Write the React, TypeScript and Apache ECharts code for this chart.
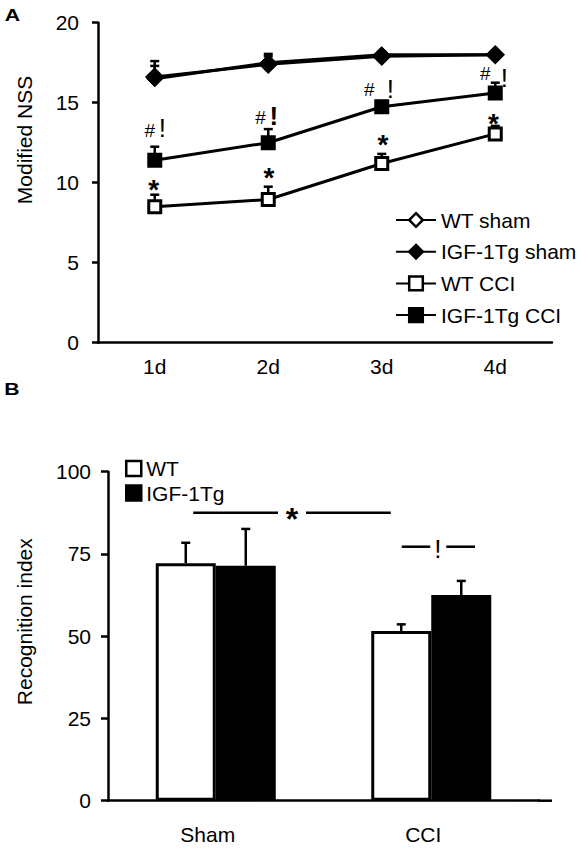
import React, { useEffect, useRef } from 'react';
import * as echarts from 'echarts';

// ---------- Panel A data: Modified NSS ----------
const days = ['1d', '2d', '3d', '4d'];
const wtSham = [16.6, 17.4, 17.9, 18.0];
const wtShamErr = [0.7, 0.5, 0.2, 0.1];
const igfSham = [16.5, 17.5, 18.0, 18.0];
const igfShamErr = [1.1, 0.55, 0.2, 0.1];
const wtCci = [8.5, 8.95, 11.2, 13.05];
const wtCciErr = [0.75, 0.8, 0.6, 0.5];
const igfCci = [11.4, 12.5, 14.75, 15.6];
const igfCciErr = [0.85, 0.85, 0.35, 0.65];

// significance marks (value positions, in NSS units)
const starValuesA = [9.6, 10.33, 12.41, 13.73];
const hashValuesA = [13.25, 14.09, 15.84, 16.84];
const bangValuesA = [13.4, 14.17, 15.84, 16.53];

// ---------- Panel B data: Recognition index ----------
const groups = ['Sham', 'CCI'];
const wtRI = [72.2, 51.6];
const wtRIErr = [6.2, 2.0];
const igfRI = [71.4, 62.5];
const igfRIErr = [11.2, 4.3];
const starLineB = 87.5;
const bangLineB = 77.2;

// ---------- layout / style ----------
const FONT = 'Arial, "Liberation Sans", Helvetica, sans-serif';
const starDxA = [-1, 0.6, 1.2, -1.8];
const hashDxA = [-5, -7.7, -12.4, -10];
const bangDxA = [7.6, 5.6, 8.6, 9];
const bangBoldA = [false, true, false, false];
const BAR_W = 60;

function errorBars(xi: number, yi: number, vals: number[], errs: number[], dx: number, z: number) {
  return {
    type: 'custom',
    xAxisIndex: xi,
    yAxisIndex: yi,
    silent: true,
    z,
    encode: { x: 0, y: 1 },
    data: vals.map((v, i) => [i, v, errs[i]]),
    renderItem: (params: any, api: any) => {
      const i = api.value(0);
      const v = api.value(1);
      const e = api.value(2);
      const p0 = api.coord([i, v]);
      const p1 = api.coord([i, v + e]);
      const x = p0[0] + dx;
      return {
        type: 'group',
        children: [
          { type: 'line', shape: { x1: x, y1: p0[1], x2: x, y2: p1[1] }, style: { stroke: '#000', lineWidth: 2.5 } },
          { type: 'line', shape: { x1: x - 4.5, y1: p1[1], x2: x + 4.5, y2: p1[1] }, style: { stroke: '#000', lineWidth: 2.5 } },
        ],
      };
    },
  };
}

function marks(vals: number[], text: string, dxs: number[], size: number, bold?: boolean[] | boolean) {
  return {
    type: 'custom',
    xAxisIndex: 0,
    yAxisIndex: 0,
    silent: true,
    z: 5,
    encode: { x: 0, y: 1 },
    data: vals.map((v, i) => [i, v]),
    renderItem: (params: any, api: any) => {
      const i = api.value(0);
      const p = api.coord([i, api.value(1)]);
      const isBold = Array.isArray(bold) ? bold[i] : !!bold;
      return {
        type: 'text',
        x: p[0] + dxs[i],
        y: p[1],
        style: {
          text,
          fill: '#000',
          fontSize: size,
          fontFamily: FONT,
          fontWeight: isBold ? 'bold' : 'normal',
          align: 'center',
          verticalAlign: 'middle',
        },
      };
    },
  };
}

export default function App() {
  const ref = useRef<HTMLDivElement>(null);
  useEffect(() => {
    document.body.style.margin = '0';
    if (!ref.current) return;
    const chart = echarts.init(ref.current, null, { renderer: 'svg' });

    const axisLine = { show: true, lineStyle: { color: '#000', width: 2.5 } };
    const labelStyle = { color: '#000', fontSize: 21, fontFamily: FONT };

    const option: any = {
      animation: false,
      backgroundColor: '#fff',
      textStyle: { fontFamily: FONT },
      grid: [
        { left: 98, top: 22.7, width: 454, height: 320 },
        { left: 108, top: 471.7, width: 431, height: 329 },
      ],
      xAxis: [
        {
          type: 'category', gridIndex: 0, data: days,
          axisLine, axisTick: { show: false },
          axisLabel: { ...labelStyle, margin: 13 },
        },
        {
          type: 'category', gridIndex: 1, data: groups,
          axisLine, axisTick: { show: false },
          axisLabel: { ...labelStyle, margin: 23, padding: [0, 16, 0, 0] },
        },
      ],
      yAxis: [
        {
          type: 'value', gridIndex: 0, min: 0, max: 20, interval: 5,
          splitLine: { show: false }, axisLine,
          axisTick: { show: true, length: 6, lineStyle: { color: '#000', width: 2.5 } },
          axisLabel: { ...labelStyle, margin: 19 },
        },
        {
          type: 'value', gridIndex: 1, min: 0, max: 100, interval: 25,
          splitLine: { show: false }, axisLine,
          axisTick: { show: true, length: 7, lineStyle: { color: '#000', width: 2.5 } },
          axisLabel: { ...labelStyle, margin: 17 },
        },
      ],
      legend: [
        {
          orient: 'vertical', left: 395, top: 209.5, padding: 0,
          itemWidth: 40, itemHeight: 17, itemGap: 10.7,
          data: ['WT sham', 'IGF-1Tg sham', 'WT CCI', 'IGF-1Tg CCI'],
          textStyle: { color: '#000', fontSize: 21, fontFamily: FONT },
          itemStyle: { borderWidth: 2.5 },
          selectedMode: false,
        },
        {
          orient: 'vertical', left: 125, top: 458, padding: 0,
          itemWidth: 15, itemHeight: 15, itemGap: 3.5, icon: 'rect',
          data: ['WT', 'IGF-1Tg'],
          textStyle: { color: '#000', fontSize: 21, fontFamily: FONT },
          itemStyle: { borderWidth: 2.5 },
          selectedMode: false,
        },
      ],
      series: [
        errorBars(0, 0, wtSham, wtShamErr, 0, 1),
        errorBars(0, 0, igfSham, igfShamErr, 0, 1),
        errorBars(0, 0, wtCci, wtCciErr, 0, 1),
        errorBars(0, 0, igfCci, igfCciErr, 0, 1),
        {
          type: 'line', name: 'WT sham', xAxisIndex: 0, yAxisIndex: 0, data: wtSham, z: 3,
          symbol: 'diamond', symbolSize: 16,
          itemStyle: { color: '#fff', borderColor: '#000', borderWidth: 2.5 },
          lineStyle: { color: '#000', width: 3 },
        },
        {
          type: 'line', name: 'IGF-1Tg sham', xAxisIndex: 0, yAxisIndex: 0, data: igfSham, z: 3,
          symbol: 'diamond', symbolSize: 16,
          itemStyle: { color: '#000', borderColor: '#000', borderWidth: 1 },
          lineStyle: { color: '#000', width: 3 },
        },
        {
          type: 'line', name: 'WT CCI', xAxisIndex: 0, yAxisIndex: 0, data: wtCci, z: 3,
          symbol: 'rect', symbolSize: 12,
          itemStyle: { color: '#fff', borderColor: '#000', borderWidth: 3 },
          lineStyle: { color: '#000', width: 3 },
        },
        {
          type: 'line', name: 'IGF-1Tg CCI', xAxisIndex: 0, yAxisIndex: 0, data: igfCci, z: 3,
          symbol: 'rect', symbolSize: 13,
          itemStyle: { color: '#000', borderColor: '#000', borderWidth: 2 },
          lineStyle: { color: '#000', width: 3 },
        },
        marks(starValuesA, '*', starDxA, 28, true),
        marks(hashValuesA, '#', hashDxA, 19),
        marks(bangValuesA, '!', bangDxA, 26, bangBoldA),
        {
          type: 'bar', name: 'WT', xAxisIndex: 1, yAxisIndex: 1, data: wtRI,
          barWidth: BAR_W, barGap: '0%',
          itemStyle: { color: '#fff', borderColor: '#000', borderWidth: 3 },
        },
        {
          type: 'bar', name: 'IGF-1Tg', xAxisIndex: 1, yAxisIndex: 1, data: igfRI,
          barWidth: BAR_W, barGap: '0%',
          itemStyle: { color: '#000', borderColor: '#000', borderWidth: 3 },
        },
        errorBars(1, 1, wtRI, wtRIErr, -BAR_W / 2, 4),
        errorBars(1, 1, igfRI, igfRIErr, BAR_W / 2, 4),
        {
          type: 'custom', xAxisIndex: 1, yAxisIndex: 1, silent: true, z: 5,
          encode: { x: 0, y: 1 },
          data: [[0, starLineB, 0]],
          renderItem: (params: any, api: any) => {
            const a = api.coord([0, starLineB]);
            const b = api.coord([1, starLineB]);
            const c = api.coord([1, bangLineB]);
            const ls = { stroke: '#000', lineWidth: 2.5 };
            const x1 = a[0] - 22.5;
            const x2 = b[0] - 40.5;
            const mid = (x1 + x2) / 2;
            const bx1 = c[0] - 29.5;
            const bx2 = c[0] + 43.75;
            const bmid = c[0] + 7;
            return {
              type: 'group',
              children: [
                { type: 'line', shape: { x1, y1: a[1], x2: mid - 14, y2: a[1] }, style: ls },
                { type: 'line', shape: { x1: mid + 14, y1: a[1], x2, y2: a[1] }, style: ls },
                { type: 'text', x: mid, y: a[1] + 6, style: { text: '*', fill: '#000', fontSize: 32, fontWeight: 'bold', fontFamily: FONT, align: 'center', verticalAlign: 'middle' } },
                { type: 'line', shape: { x1: bx1, y1: c[1], x2: bmid - 8, y2: c[1] }, style: ls },
                { type: 'line', shape: { x1: bmid + 8, y1: c[1], x2: bx2, y2: c[1] }, style: ls },
                { type: 'text', x: bmid - 0.5, y: c[1] + 2.3, style: { text: '!', fill: '#000', fontSize: 26, fontFamily: FONT, align: 'center', verticalAlign: 'middle' } },
              ],
            };
          },
        },
      ],
      graphic: [
        { type: 'text', x: 12.5, y: 15.5, scaleX: 1.25, style: { text: 'A', fill: '#000', fontSize: 17, fontWeight: 'bold', fontFamily: FONT, align: 'center', verticalAlign: 'middle' } },
        { type: 'text', x: 12, y: 389, scaleX: 1.25, style: { text: 'B', fill: '#000', fontSize: 17, fontWeight: 'bold', fontFamily: FONT, align: 'center', verticalAlign: 'middle' } },
        { type: 'text', x: 24, y: 140, rotation: Math.PI / 2, style: { text: 'Modified NSS', fill: '#000', fontSize: 21, fontFamily: FONT, align: 'center', verticalAlign: 'middle' } },
        { type: 'text', x: 24, y: 621.7, rotation: Math.PI / 2, style: { text: 'Recognition index', fill: '#000', fontSize: 21, fontFamily: FONT, align: 'center', verticalAlign: 'middle' } },
        { type: 'line', shape: { x1: 538, y1: 800.7, x2: 552, y2: 800.7 }, style: { stroke: '#000', lineWidth: 2.5 } },
      ],
    };
    chart.setOption(option);
    return () => chart.dispose();
  }, []);
  return <div ref={ref} style={{ width: 581, height: 851 }} />;
}
